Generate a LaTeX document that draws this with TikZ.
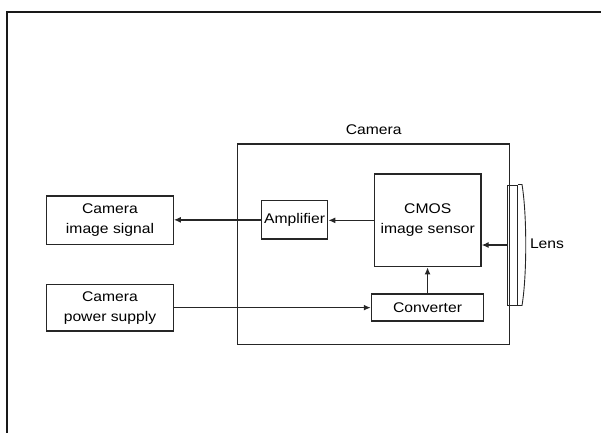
\documentclass[tikz,border=0pt]{standalone}
\usepackage{fontspec}
\newfontfamily\diagfont{Liberation Sans}[FakeStretch=1.12]
\usetikzlibrary{arrows.meta}
\begin{document}
\begin{tikzpicture}[
    x=1pt, y=1pt,
    font=\diagfont\fontsize{14}{20}\selectfont,
    block/.style={draw=black!85, line width=1.3pt, align=center, inner sep=1pt},
    flow/.style={-{Latex[length=7pt,width=6pt]}, draw=black!85, line width=1.3pt},
    frame/.style={draw=black!90, line width=1.6pt}
]
\useasboundingbox (0,0) rectangle (601,432);
\draw[frame] (6.7,-2) -- (6.7,420) -- (603,420);

\node[block, minimum width=272.2pt, minimum height=200.3pt] (camera) at (373.7,187.85) {};
\node (cameralabel) at (373.7,302) {Camera};

\node[block, minimum width=106.5pt, minimum height=92.7pt] (cmos) at (427.75,211.65) {CMOS\\image sensor};
\node[block, minimum width=66.3pt, minimum height=38.3pt] (amp) at (294.55,212.15) {Amplifier};
\node[block, minimum width=112.3pt, minimum height=27pt] (conv) at (427.55,124.5) {Converter};
\node[block, minimum width=126.4pt, minimum height=48.3pt] (signal) at (110,211.85) {Camera\\image signal};
\node[block, minimum width=126.4pt, minimum height=46.7pt] (power) at (110,124.35) {Camera\\power supply};

\node[block, line width=1pt, minimum width=10pt, minimum height=120pt] (lens) at (512.5,187) {};
\draw[draw=black!85, line width=0.9pt] (lens.north east) -- ++(4,0) .. controls ++(5,-30) and ++(5,30) .. ([xshift=4pt]lens.south east) -- (lens.south east);
\node (lenslabel) at (547,188) {Lens};

\draw[flow] (lens.west) -- (lens.west -| cmos.east);
\draw[flow] (cmos.west) -- (cmos.west -| amp.east);
\draw[flow] (amp.west) -- (amp.west -| signal.east);
\draw[flow] (power.east) -- (power.east -| conv.west);
\draw[flow] (conv.north) -- (conv.north |- cmos.south);
\end{tikzpicture}
\end{document}
